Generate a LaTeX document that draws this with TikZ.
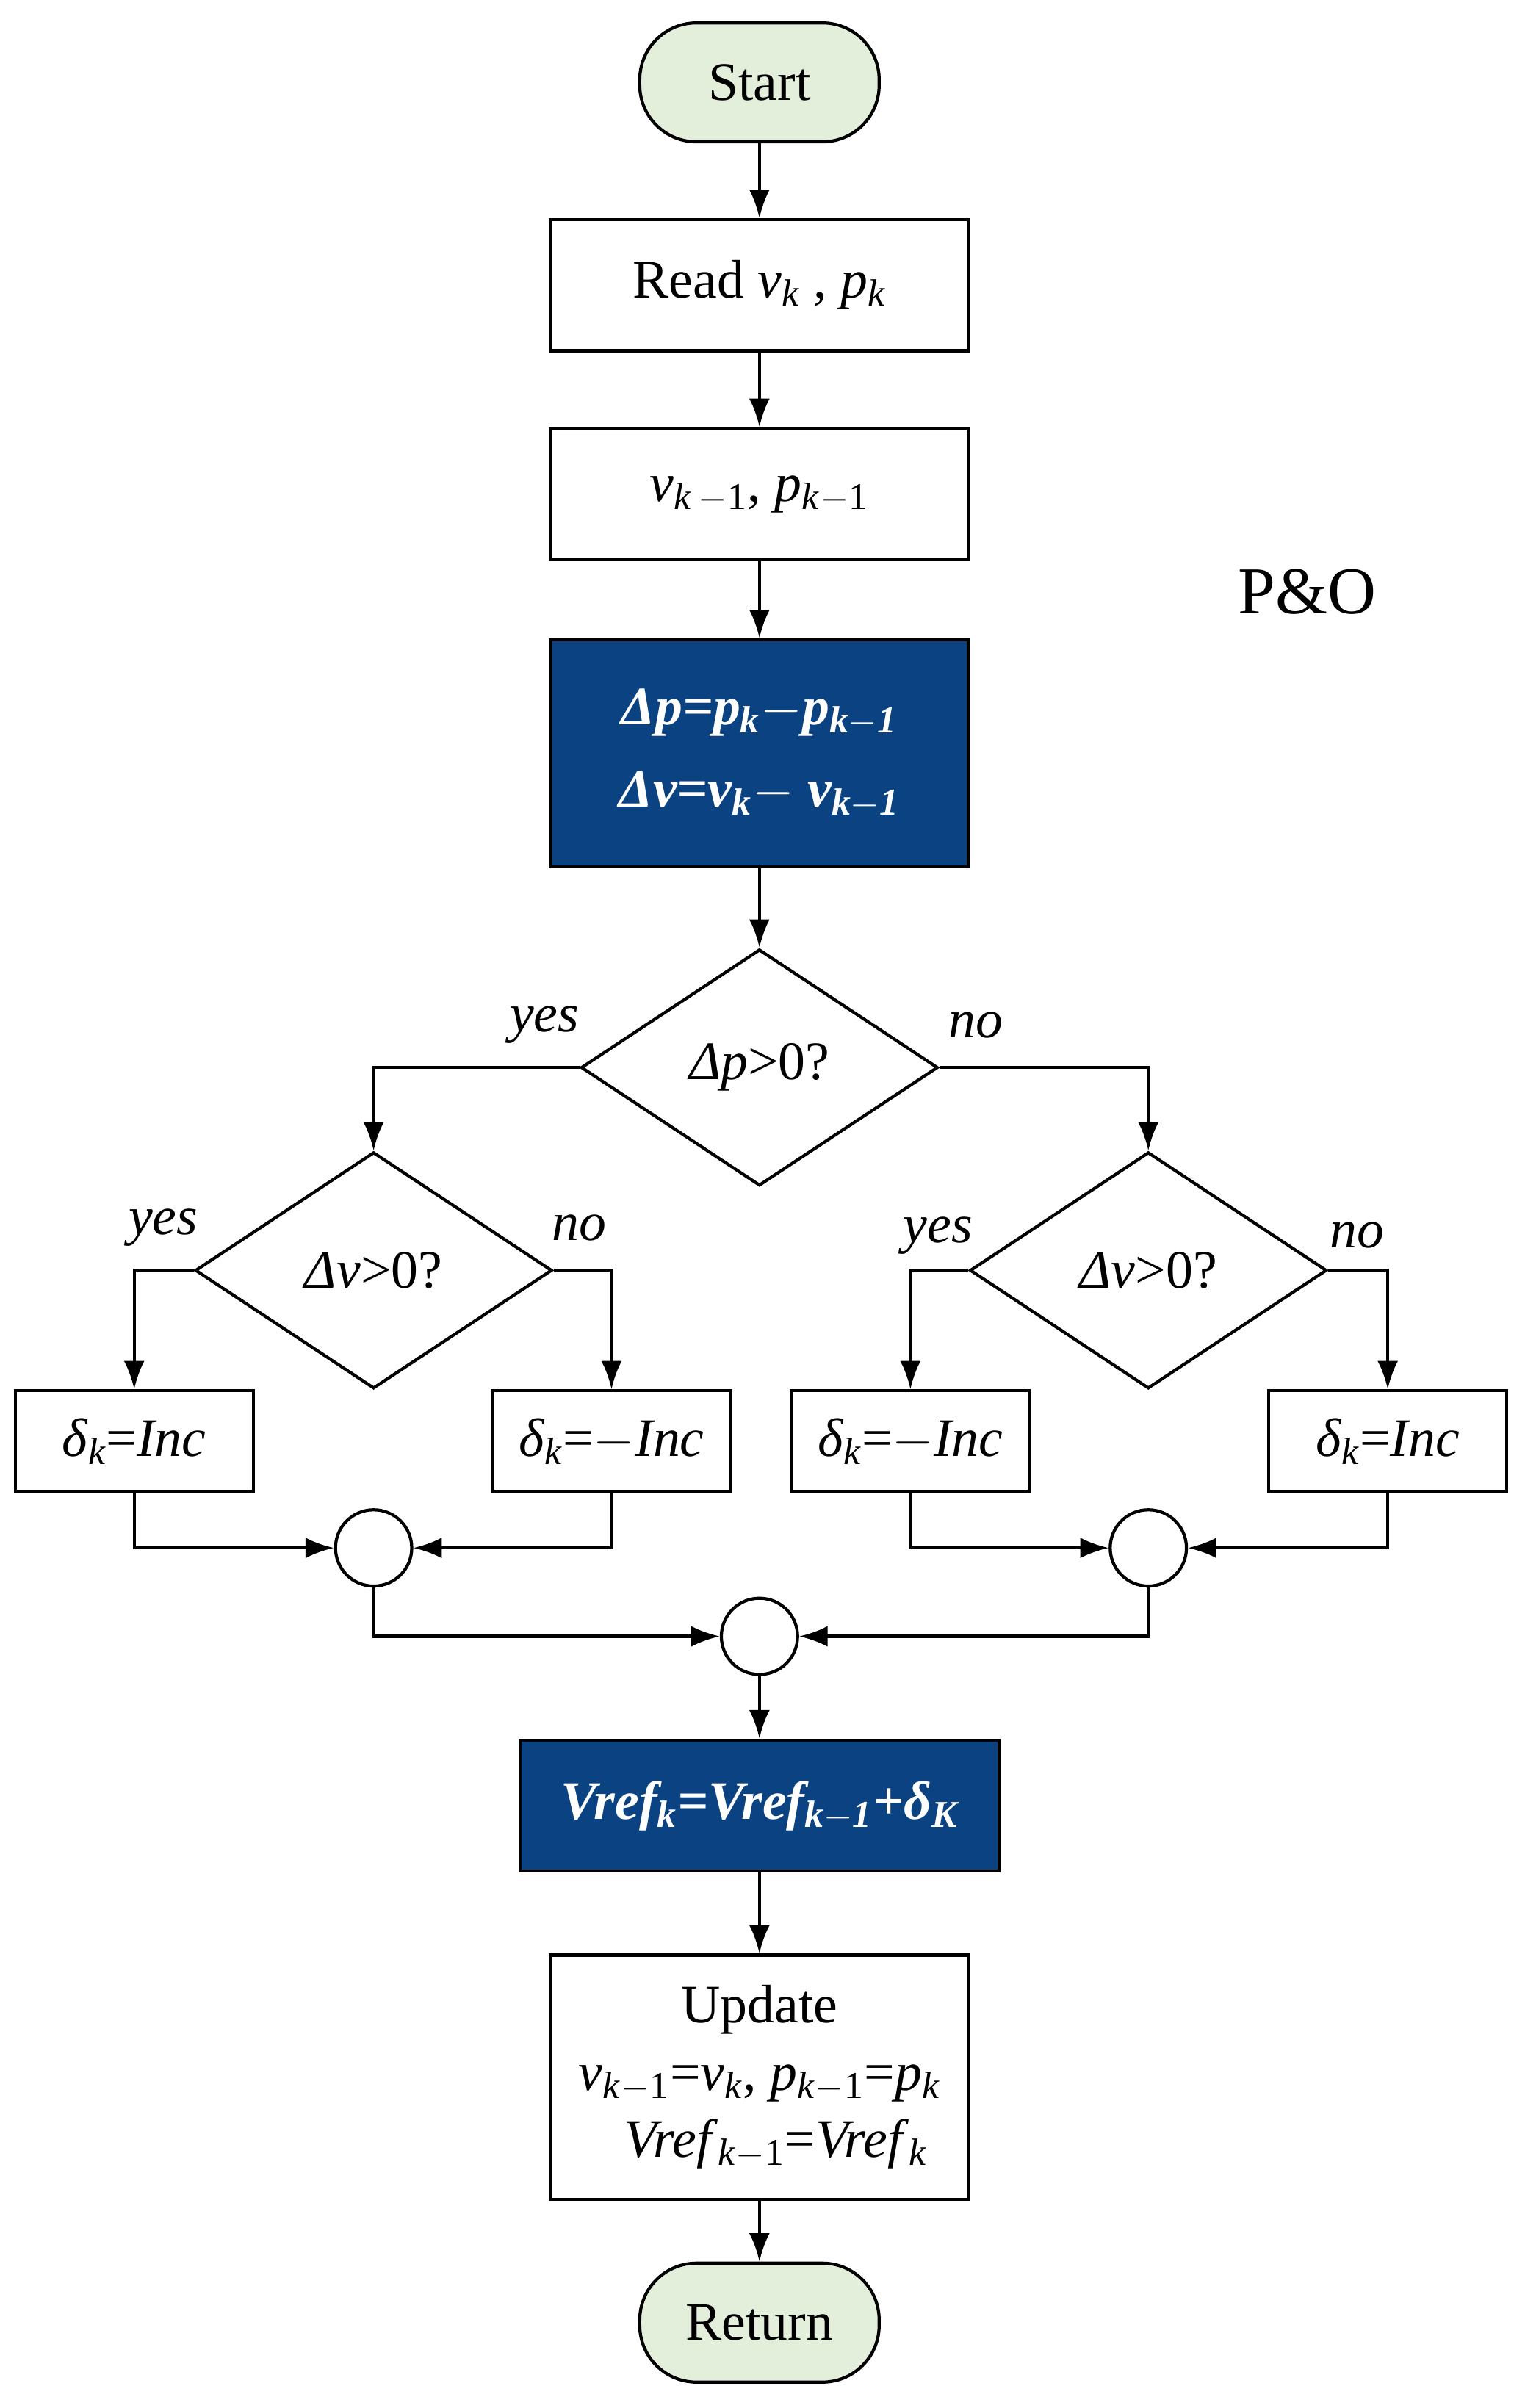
\documentclass[tikz,border=0pt]{standalone}
\usepackage{fontspec}
\setmainfont{Liberation Serif}
\usetikzlibrary{shapes.geometric,arrows.meta}
\definecolor{pgreen}{HTML}{E3EEDB}
\definecolor{pblue}{HTML}{0B4382}
\newcommand{\sbs}[1]{\textsubscript{\itshape #1}}
\begin{document}
\begin{tikzpicture}[x=0.02076cm,y=-0.02076cm,
  every node/.style={font=\fontsize{21}{27}\selectfont},
  box/.style={draw,line width=1.2pt,minimum width=274*0.02076cm,minimum height=86*0.02076cm,align=center,inner sep=0pt},
  term/.style={draw,line width=1.2pt,rounded corners=22pt,fill=pgreen,minimum width=157*0.02076cm,minimum height=78*0.02076cm},
  bbox/.style={box,fill=pblue,text=white,font=\fontsize{21}{32}\selectfont\bfseries\itshape},
  dec/.style={draw,line width=1.2pt,diamond,aspect=1.5,minimum width=234*0.02076cm,minimum height=155*0.02076cm,inner sep=0pt},
  sm/.style={draw,line width=1.2pt,minimum width=156*0.02076cm,minimum height=66*0.02076cm,inner sep=0pt},
  jn/.style={draw,line width=1.2pt,circle,minimum size=50*0.02076cm,inner sep=0pt},
  lab/.style={font=\fontsize{21}{24}\selectfont\itshape},
  arr/.style={line width=1.2pt,-{Latex[length=11pt,width=8pt]}},
  ln/.style={line width=1.2pt}]
\useasboundingbox (0,0) rectangle (1000,1579);
\begin{scope}[yshift=-5*0.02076cm]
\node[term] (start) at (498,49) {Start};
\node[box] (read) at (498,182) {Read \textit{v}\sbs{k} , \textit{p}\sbs{k}};
\node[box] (prev) at (498,319) {\textit{v}\sbs{k\,}\textsubscript{$-$1}, \textit{p}\sbs{k}\textsubscript{$-$1}};
\node[font=\fontsize{26}{30}\selectfont] (po) at (857,383) {P\&O};
\node[bbox,minimum height=149*0.02076cm] (calc) at (498,489) {Δp=p\textsubscript{k}$-$p\textsubscript{k$-$1}\\Δv=v\textsubscript{k}$-$ v\textsubscript{k$-$1}};
\node[dec] (d1) at (498,695) {\textit{Δp}>0?};
\node[dec] (d2) at (245,828) {\textit{Δv}>0?};
\node[dec] (d3) at (753,828) {\textit{Δv}>0?};
\node[lab] at (357,667) {yes};
\node[lab] at (640,667) {no};
\node[lab] at (107,800) {yes};
\node[lab] at (380,800) {no};
\node[lab] at (615,805) {yes};
\node[lab] at (890,805) {no};
\node[sm] (b1) at (88,940) {\textit{δ}\sbs{k}=\textit{Inc}};
\node[sm] (b2) at (401,940) {\textit{δ}\sbs{k}=$-$\textit{Inc}};
\node[sm] (b3) at (597,940) {\textit{δ}\sbs{k}=$-$\textit{Inc}};
\node[sm] (b4) at (910,940) {\textit{δ}\sbs{k}=\textit{Inc}};
\node[jn] (c1) at (245,1010) {};
\node[jn] (c2) at (753,1010) {};
\node[jn] (c3) at (498,1068) {};
\node[bbox,minimum width=314*0.02076cm] (vref) at (498,1179) {Vref\textsubscript{k}=Vref\textsubscript{k$-$1}+\textit{δ}\textsubscript{K}};
\node[box,minimum height=160*0.02076cm,font=\fontsize{21}{26}\selectfont] (upd) at (498,1357) {Update\\\textit{v}\sbs{k}\textsubscript{$-$1}=\textit{v}\sbs{k}, \textit{p}\sbs{k}\textsubscript{$-$1}=\textit{p}\sbs{k}\\\hspace*{0.6em}\textit{Vref}\sbs{k}\textsubscript{$-$1}=\textit{Vref}\sbs{k}};
\node[term] (ret) at (498,1518) {Return};
\draw[arr] (start) -- (read);
\draw[arr] (read) -- (prev);
\draw[arr] (prev) -- (calc);
\draw[arr] (calc) -- (d1);
\draw[arr] (d1.west) -| (d2.north);
\draw[arr] (d1.east) -| (d3.north);
\draw[arr] (d2.west) -| (b1.north);
\draw[arr] (d2.east) -| (b2.north);
\draw[arr] (d3.west) -| (b3.north);
\draw[arr] (d3.east) -| (b4.north);
\draw[arr] (b1.south) |- (c1.west);
\draw[arr] (b2.south) |- (c1.east);
\draw[arr] (b3.south) |- (c2.west);
\draw[arr] (b4.south) |- (c2.east);
\draw[arr] (c1.south) |- (c3.west);
\draw[arr] (c2.south) |- (c3.east);
\draw[arr] (c3) -- (vref);
\draw[arr] (vref) -- (upd);
\draw[arr] (upd) -- (ret);
\end{scope}
\end{tikzpicture}
\end{document}
